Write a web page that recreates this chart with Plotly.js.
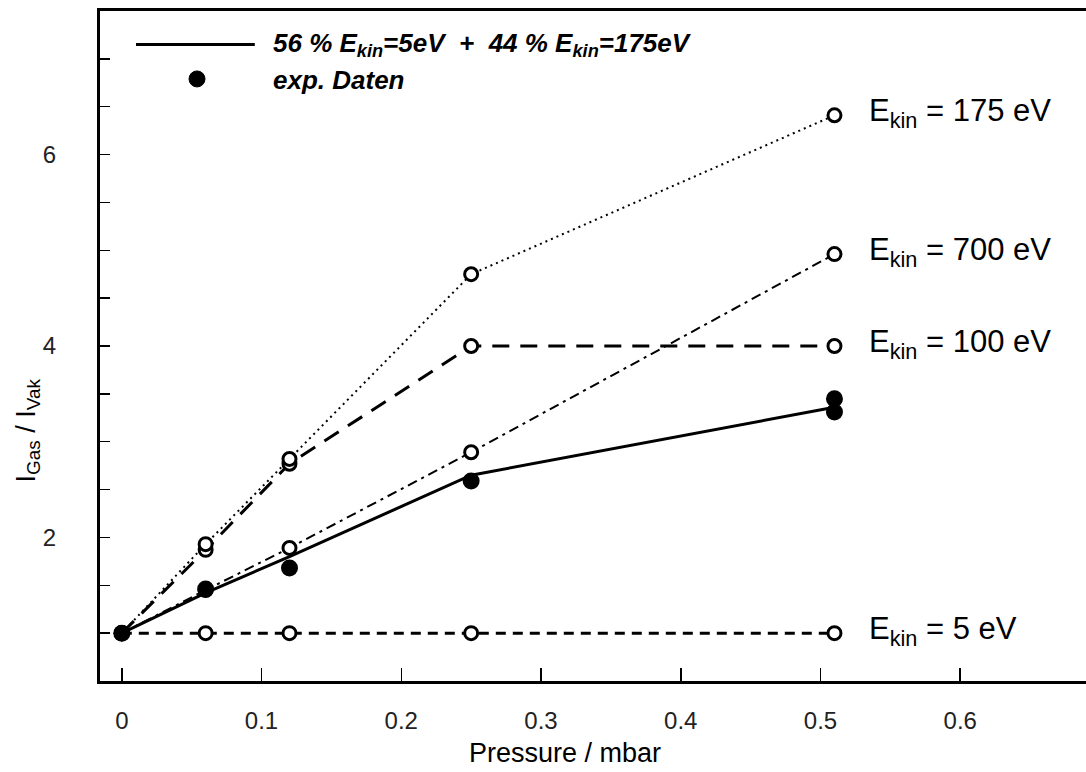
<!DOCTYPE html>
<html>
<head>
<meta charset="utf-8">
<script src="https://cdn.plot.ly/plotly-3.0.1.min.js"></script>
<style>
  html, body { margin: 0; padding: 0; background: #fff; }
  #chart { width: 1086px; height: 772px; }
</style>
</head>
<body>
<div id="chart"></div>
<script>
// Pressure values (mbar) at which the current ratio was computed
const pressure = [0, 0.06, 0.12, 0.25, 0.51];

// Computed I_Gas / I_Vak for different kinetic energies
const ratio175 = [1, 1.93, 2.82, 4.75, 6.41];
const ratio100 = [1, 1.87, 2.77, 4.0, 4.0];
const ratio700 = [1, 1.45, 1.89, 2.89, 4.96];
const ratio5   = [1, 1.0, 1.0, 1.0, 1.0];

// Mixture 56% E_kin = 5 eV + 44% E_kin = 175 eV
const ratioMix = [1, 1.42, 1.80, 2.65, 3.36];

// Measured data
const expPressure = [0, 0.06, 0.12, 0.25, 0.51, 0.51];
const expRatio    = [1, 1.46, 1.68, 2.59, 3.45, 3.31];

// Tick positions and labels
const xTicks = [0, 0.1, 0.2, 0.3, 0.4, 0.5, 0.6];
const xTickText = ['0', '0.1', '0.2', '0.3', '0.4', '0.5', '0.6'];
const yTicks = [1, 1.5, 2, 2.5, 3, 3.5, 4, 4.5, 5, 5.5, 6, 6.5, 7];
const yTickText = ['', '', '2', '', '', '', '4', '', '', '', '6', '', ''];

// Curve labels on the right
const curveLabels = ['175', '700', '100', '5'];
const curveSeries = [ratio175, ratio700, ratio100, ratio5];

const openMarker = { symbol: 'circle', size: 13, color: '#ffffff', line: { color: '#000', width: 3 } };

const traces = [
  { x: pressure, y: ratio5, mode: 'lines+markers',
    line: { color: '#000', width: 3, dash: '10px,7px' }, marker: openMarker },
  { x: pressure, y: ratio100, mode: 'lines+markers',
    line: { color: '#000', width: 3, dash: '17px,11px' }, marker: openMarker },
  { x: pressure, y: ratio700, mode: 'lines+markers',
    line: { color: '#000', width: 2, dash: '10px,5px,3px,5px' }, marker: openMarker },
  { x: pressure, y: ratio175, mode: 'lines+markers',
    line: { color: '#000', width: 2, dash: '2px,4px' }, marker: openMarker },
  { x: pressure, y: ratioMix, mode: 'lines',
    line: { color: '#000', width: 3 } },
  { x: expPressure, y: expRatio, mode: 'markers',
    marker: { symbol: 'circle', size: 17, color: '#000' } }
];

const labelFont = { family: 'Liberation Sans, Arial, sans-serif', size: 31, color: '#000' };
const annotations = curveLabels.map((e, i) => ({
  x: 0.533, y: curveSeries[i][curveSeries[i].length - 1],
  xref: 'x', yref: 'y', xanchor: 'left', yanchor: 'middle',
  text: 'E<sub>kin</sub> = ' + e + ' eV', showarrow: false, font: labelFont, yshift: 2
}));

// Legend text
const legendFont = { family: 'Liberation Sans, Arial, sans-serif', size: 26, color: '#000' };
annotations.push({
  x: 0.1734, y: 0.950, xref: 'paper', yref: 'paper', xanchor: 'left', yanchor: 'middle',
  text: '<b><i>56 % E<sub>kin</sub>=5eV  +  44 % E<sub>kin</sub>=175eV</i></b>',
  showarrow: false, font: legendFont
});
annotations.push({
  x: 0.1734, y: 0.8966, xref: 'paper', yref: 'paper', xanchor: 'left', yanchor: 'middle',
  text: '<b><i>exp. Daten</i></b>', showarrow: false, font: legendFont
});

// Axis titles
const titleFont = { family: 'Liberation Sans, Arial, sans-serif', size: 27, color: '#000' };
annotations.push({
  x: 0.4716, y: -0.108, xref: 'paper', yref: 'paper', xanchor: 'center', yanchor: 'middle',
  text: 'Pressure / mbar', showarrow: false, font: titleFont
});
annotations.push({
  x: -0.073, y: 0.374, xref: 'paper', yref: 'paper', xanchor: 'center', yanchor: 'middle',
  text: 'I<sub>Gas</sub> / I<sub>Vak</sub>', textangle: -90, showarrow: false, font: titleFont
});

const shapes = [
  // legend line sample
  { type: 'line', xref: 'paper', yref: 'paper', x0: 0.0365, x1: 0.157, y0: 0.950, y1: 0.950,
    line: { color: '#000', width: 3 } },
  // legend dot sample
  { type: 'circle', xref: 'paper', yref: 'paper', xsizemode: 'pixel', ysizemode: 'pixel',
    xanchor: 0.0984, yanchor: 0.8986, x0: -8, x1: 8, y0: -8, y1: 8,
    fillcolor: '#000', line: { color: '#000', width: 1 } }
];

const tickFont = { family: 'Liberation Sans Narrow, Liberation Sans, Arial, sans-serif', size: 24, color: '#222' };

const layout = {
  width: 1086, height: 772,
  margin: { l: 100, r: 0, t: 11, b: 91 },
  paper_bgcolor: '#fff', plot_bgcolor: '#fff',
  showlegend: false,
  xaxis: {
    range: [-0.0156, 0.69], showgrid: false, zeroline: false,
    showline: true, linecolor: '#000', linewidth: 3, mirror: true,
    tickmode: 'array', tickvals: xTicks, ticktext: xTickText,
    ticks: 'inside', ticklen: 13, tickwidth: 1.5, tickcolor: '#000',
    tickfont: tickFont, ticklabelstandoff: 16
  },
  yaxis: {
    range: [0.5, 7.5], showgrid: false, zeroline: false,
    showline: true, linecolor: '#000', linewidth: 3, mirror: false,
    tickmode: 'array', tickvals: yTicks, ticktext: yTickText,
    ticks: 'inside', ticklen: 10, tickwidth: 1.5, tickcolor: '#000',
    tickfont: tickFont, ticklabelstandoff: 36
  },
  annotations: annotations,
  shapes: shapes
};

Plotly.newPlot('chart', traces, layout, { displayModeBar: false, staticPlot: true });
</script>
</body>
</html>
